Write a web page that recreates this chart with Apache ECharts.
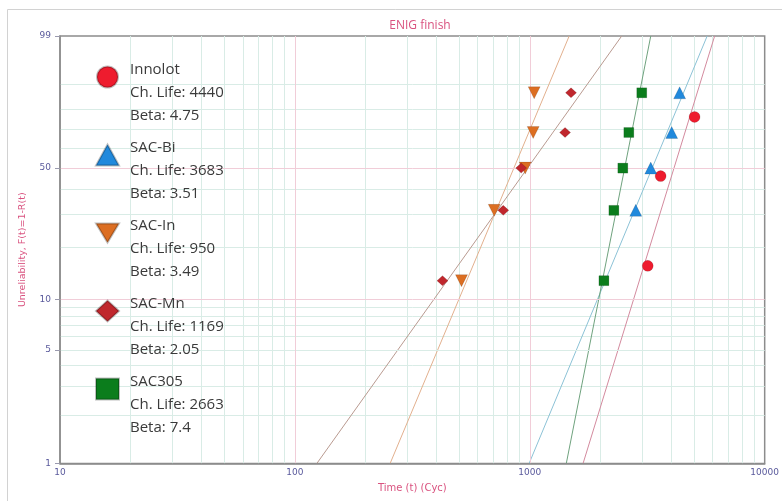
<!DOCTYPE html>
<html>
<head>
<meta charset="utf-8">
<script src="https://cdn.jsdelivr.net/npm/echarts@6/dist/echarts.min.js"></script>
<style>html,body{margin:0;padding:0;background:#fff;}#c{width:782px;height:501px;}</style>
</head>
<body>
<div id="c"></div>
<script>
// ---- data ----
const seriesNames = ['Innolot', 'SAC-Bi', 'SAC-In', 'SAC-Mn', 'SAC305'];
const chLife = [4440, 3683, 950, 1169, 2663];
const betaValues = [4.75, 3.51, 3.49, 2.05, 7.4];

const innolotCycles = [3177, 3606, 5029];
const innolotUnrel = [15.7, 46.1, 76.4];
const sacBiCycles = [2825, 3273, 4018, 4345];
const sacBiUnrel = [31.5, 50, 68.5, 87.0];
const sacInCycles = [512, 706, 956, 1034, 1044];
const sacInUnrel = [12.9, 31.5, 50, 68.5, 87.0];
const sacMnCycles = [425, 771, 919, 1413, 1498];
const sacMnUnrel = [12.9, 31.5, 50, 68.5, 87.0];
const sac305Cycles = [2068, 2280, 2489, 2640, 2997];
const sac305Unrel = [12.9, 31.5, 50, 68.5, 87.0];

const xTickLabels = [10, 100, 1000, 10000];
const xMinorGrid = [20, 30, 40, 50, 60, 70, 80, 90, 200, 300, 400, 500, 600, 700, 800, 900, 2000, 3000, 4000, 5000, 6000, 7000, 8000, 9000];
const yTickLabels = [1, 5, 10, 50, 99];
const yMinorGrid = [2, 3, 4, 6, 7, 8, 9, 20, 30, 40, 60, 70, 80, 90];

// ---- styling ----
const markerColors = ['#ee1c2e', '#2189dc', '#dc6e22', '#c0272d', '#0b7d1c'];
const lineColors = ['#d38a9e', '#8cc2d6', '#e2b08e', '#b99a90', '#6fa27e'];
const symbols = ['circle', 'triangle', 'triangle', 'diamond', 'rect'];
const legendIcons = ['circle', 'triangle', 'path://M0,0L24,0L12,20Z', 'diamond', 'rect'];
const symbolRot = [0, 0, 180, 0, 0];
const symbolSizes = [11, 12, 12, [11, 10], 10];

// Weibull probability scale helpers
const W = p => Math.log(-Math.log(1 - p / 100));
const invW = w => 100 * (1 - Math.exp(-Math.exp(w)));
const L = t => Math.log10(t);

const cycles = [innolotCycles, sacBiCycles, sacInCycles, sacMnCycles, sac305Cycles];
const unrel = [innolotUnrel, sacBiUnrel, sacInUnrel, sacMnUnrel, sac305Unrel];

const yMin = W(yTickLabels[0]);
const yMax = W(yTickLabels[yTickLabels.length - 1]);

const series = [];
seriesNames.forEach((name, i) => {
  // fitted Weibull line from characteristic life and beta (F = 1%..99%)
  const tLo = chLife[i] * Math.exp(yMin / betaValues[i]);
  const tHi = chLife[i] * Math.exp(yMax / betaValues[i]);
  series.push({
    name: name + ' fit', type: 'line', silent: true, symbol: 'none', z: 2,
    lineStyle: { color: lineColors[i], width: 1 },
    data: [[L(tLo), yMin], [L(tHi), yMax]]
  });
});
seriesNames.forEach((name, i) => {
  series.push({
    name: name, type: 'scatter', z: 5,
    symbol: symbols[i], symbolRotate: symbolRot[i], symbolSize: symbolSizes[i],
    itemStyle: { color: markerColors[i], borderColor: 'rgba(0,0,0,0.25)', borderWidth: 0.5, opacity: 1 },
    data: cycles[i].map((t, k) => [L(t), W(unrel[i][k])])
  });
});

const pink = '#f1cdd8';
const green = '#d9ece6';
const none = 'rgba(0,0,0,0)';
const labelColor = '#5a5a9c';
const nameColor = '#d9527f';

const chart = echarts.init(document.getElementById('c'), null, { renderer: 'canvas' });
chart.setOption({
  animation: false,
  backgroundColor: '#fff',
  title: {
    text: 'ENIG finish', left: 415, top: 15, textAlign: 'center',
    textStyle: { color: nameColor, fontSize: 12, fontWeight: 'normal', fontFamily: 'Open Sans' }
  },
  graphic: [{
    type: 'rect', silent: true, z: -10,
    shape: { x: 7.5, y: 9.5, width: 900, height: 620 },
    style: { fill: 'none', stroke: '#d2d2d2', lineWidth: 1 }
  }],
  legend: {
    orient: 'vertical', left: 95, top: 27, padding: 0,
    itemWidth: 23, itemHeight: 21, itemGap: -22,
    data: seriesNames.map((n, i) => ({ name: n, icon: legendIcons[i] })),
    formatter: name => {
      const i = seriesNames.indexOf(name);
      return '{e| }\n' + name + '\nCh. Life: ' + chLife[i] + '\nBeta: ' + betaValues[i];
    },
    textStyle: {
      fontSize: 15, lineHeight: 23, color: '#3a3a3a', fontFamily: 'Open Sans',
      padding: [0, 0, 0, 6],
      rich: { e: { fontSize: 15, lineHeight: 31 } }
    },
    selectedMode: false
  },
  grid: {
    left: 60, right: 14.5, top: 36, bottom: 37.5,
    show: true, borderColor: '#8c8c8c', borderWidth: 1.5, backgroundColor: 'transparent'
  },
  xAxis: [{
    type: 'value', min: L(xTickLabels[0]), max: L(xTickLabels[xTickLabels.length - 1]),
    position: 'bottom', z: 3,
    name: 'Time (t) (Cyc)', nameLocation: 'middle', nameGap: 20,
    nameTextStyle: { color: nameColor, fontSize: 10, fontFamily: 'DejaVu Sans' },
    axisLine: { show: true, onZero: false, lineStyle: { color: '#8c8c8c', width: 1.5 } },
    axisTick: { show: false, customValues: xTickLabels.map(L) },
    axisLabel: {
      customValues: xTickLabels.map(L), margin: 5,
      color: labelColor, fontSize: 9, fontFamily: 'DejaVu Sans',
      formatter: v => String(Math.round(Math.pow(10, v)))
    },
    splitLine: { show: true, lineStyle: { color: [none, pink, pink, none], width: 1 } }
  }, {
    type: 'value', min: L(xTickLabels[0]), max: L(xTickLabels[xTickLabels.length - 1]),
    position: 'bottom', z: 1,
    axisLine: { show: false, onZero: false }, axisLabel: { show: false },
    axisTick: { show: false, customValues: xMinorGrid.map(L) },
    splitLine: { show: true, lineStyle: { color: green, width: 1 } }
  }],
  yAxis: [{
    type: 'value', min: yMin, max: yMax, position: 'left', z: 3,
    name: 'Unreliability, F(t)=1-R(t)', nameLocation: 'middle', nameGap: 32,
    nameTextStyle: { color: nameColor, fontSize: 9.5, fontFamily: 'DejaVu Sans' },
    axisLine: { show: true, onZero: false, lineStyle: { color: '#8c8c8c', width: 1.5 } },
    axisTick: { show: true, inside: false, length: 5, customValues: yTickLabels.map(W), lineStyle: { color: '#9a9aae' } },
    axisLabel: {
      customValues: yTickLabels.map(W), margin: 9,
      color: labelColor, fontSize: 9, fontFamily: 'DejaVu Sans',
      formatter: v => String(Math.round(invW(v)))
    },
    splitLine: { show: true, lineStyle: { color: [none, green, pink, pink, none], width: 1 } }
  }, {
    type: 'value', min: yMin, max: yMax, position: 'left', z: 1,
    axisLine: { show: false, onZero: false }, axisLabel: { show: false },
    axisTick: { show: false, customValues: yMinorGrid.map(W) },
    splitLine: { show: true, lineStyle: { color: green, width: 1 } }
  }],
  series: series
});
</script>
</body>
</html>
